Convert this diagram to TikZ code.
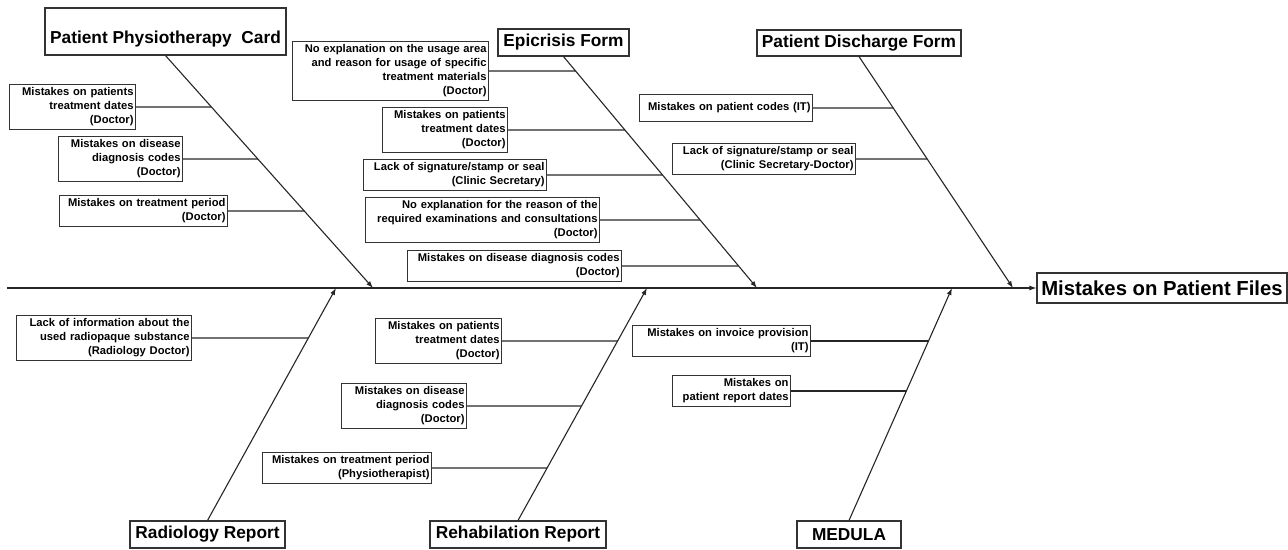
\documentclass[tikz,border=0pt]{standalone}
\usepackage{fontspec}
\setmainfont{Liberation Sans}
\usetikzlibrary{arrows.meta,calc}
\newcommand\fishrib[3]{\draw[bone] (#1.east) -- (intersection cs: first line={(#2)--(#3)}, second line={(#1.east)--([xshift=10pt]#1.east)});}
\begin{document}
\begin{tikzpicture}[x=1pt,y=-1pt,
  head/.style={draw=black!80, line width=1.1pt, font=\fontsize{17.3}{20}\selectfont\bfseries, inner sep=0pt},
  cause/.style={draw=black!80, line width=1pt, font=\fontsize{11.2}{14}\selectfont\bfseries, align=right, inner xsep=2pt, inner ysep=3.5pt, anchor=east, text width=#1},
  bone/.style={draw=black!85, line width=1.1pt},
  arr/.style={bone, -{Latex[length=7pt,width=5pt]}}]
\useasboundingbox (0,0) rectangle (1288,549);

% effect
\node[head, font=\fontsize{20.3}{24}\selectfont\bfseries, minimum width=250pt, minimum height=30pt] (eff) at (1162,288) {Mistakes on Patient Files};
\coordinate (s0) at (7,288);
\draw[arr] (s0) -- (eff.west);

% heads
\node[head, minimum width=241pt, minimum height=47pt, text height=26pt, text depth=2pt] (h1) at (165.5,31.5) {Patient Physiotherapy\ \ Card};
\node[head, minimum width=131pt, minimum height=27pt] (h2) at (563.5,42.5) {Epicrisis Form};
\node[head, minimum width=204pt, minimum height=26pt] (h3) at (859,43) {Patient Discharge Form};
\node[head, minimum width=155pt, minimum height=27pt] (h4) at (207.5,534.5) {Radiology Report};
\node[head, minimum width=176pt, minimum height=27pt] (h5) at (518,534.5) {Rehabilation Report};
\node[head, minimum width=104pt, minimum height=27pt] (h6) at (849,534.5) {MEDULA};

\coordinate (t1) at (373,288);
\coordinate (t2) at (757,288);
\coordinate (t3) at (1013,288);
\coordinate (t4) at (336,288);
\coordinate (t5) at (647,288);
\coordinate (t6) at (952,288);

\draw[arr] (h1.south) -- (t1);
\draw[arr] (h2.south) -- (t2);
\draw[arr] (h3.south) -- (t3);
\draw[arr] (h4.north) -- (t4);
\draw[arr] (h5.north) -- (t5);
\draw[arr] (h6.north) -- (t6);

% Patient Physiotherapy Card causes
\node[cause=122pt] (c11) at (136,107) {Mistakes on patients\\treatment dates\\(Doctor)};
\node[cause=120pt] (c12) at (183,159) {Mistakes on disease\\diagnosis codes\\(Doctor)};
\node[cause=164pt] (c13) at (228,211) {Mistakes on treatment period\\(Doctor)};
\fishrib{c11}{h1.south}{t1}
\fishrib{c12}{h1.south}{t1}
\fishrib{c13}{h1.south}{t1}

% Epicrisis Form causes
\node[cause=192pt] (c21) at (489,71) {No explanation on the usage area\\and reason for usage of specific\\treatment materials\\(Doctor)};
\node[cause=121pt] (c22) at (508,130) {Mistakes on patients\\treatment dates\\(Doctor)};
\node[cause=179pt] (c23) at (547,175) {Lack of signature/stamp or seal\\(Clinic Secretary)};
\node[cause=230pt] (c24) at (600,220) {No explanation for the reason of the\\required examinations and consultations\\(Doctor)};
\node[cause=210pt] (c25) at (622,266) {Mistakes on disease diagnosis codes\\(Doctor)};
\fishrib{c21}{h2.south}{t2}
\fishrib{c22}{h2.south}{t2}
\fishrib{c23}{h2.south}{t2}
\fishrib{c24}{h2.south}{t2}
\fishrib{c25}{h2.south}{t2}

% Patient Discharge Form causes
\node[cause=169pt, minimum height=27pt] (c31) at (813,108) {Mistakes on patient codes (IT)};
\node[cause=179pt] (c32) at (856,159) {Lack of signature/stamp or seal\\(Clinic Secretary-Doctor)};
\fishrib{c31}{h3.south}{t3}
\fishrib{c32}{h3.south}{t3}

% Radiology Report causes
\node[cause=171pt] (c41) at (192,338) {Lack of information about the\\used radiopaque substance\\(Radiology Doctor)};
\fishrib{c41}{h4.north}{t4}

% Rehabilation Report causes
\node[cause=122pt] (c51) at (502,341) {Mistakes on patients\\treatment dates\\(Doctor)};
\node[cause=121pt] (c52) at (467,406) {Mistakes on disease\\diagnosis codes\\(Doctor)};
\node[cause=165pt] (c53) at (432,468) {Mistakes on treatment period\\(Physiotherapist)};
\fishrib{c51}{h5.north}{t5}
\fishrib{c52}{h5.north}{t5}
\fishrib{c53}{h5.north}{t5}

% MEDULA causes
\node[cause=174pt] (c61) at (811,341) {Mistakes on invoice provision\\(IT)};
\node[cause=114pt] (c62) at (791,391) {Mistakes on\\patient report dates};
\fishrib{c61}{h6.north}{t6}
\fishrib{c62}{h6.north}{t6}
\end{tikzpicture}
\end{document}
